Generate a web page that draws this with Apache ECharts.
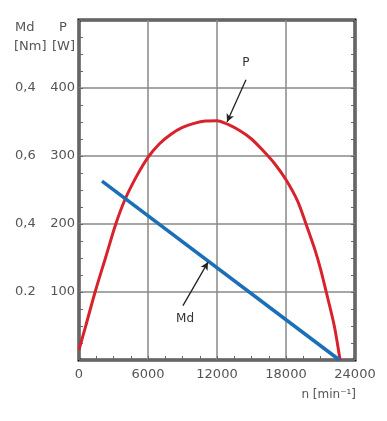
<!DOCTYPE html>
<html>
<head>
<meta charset="utf-8">
<script src="https://cdn.jsdelivr.net/npm/echarts@6/dist/echarts.min.js"></script>
<style>
html,body{margin:0;padding:0;background:#fff;}
#c{width:387px;height:421px;}
</style>
</head>
<body>
<div id="c"></div>
<script>
// speed n [min^-1]
var pSpeed = [0, 600, 1400, 2300, 3200, 4000, 5000, 6000, 7000, 8000, 9000, 10000, 11000, 12000, 13000, 14000, 15000, 16000, 17000, 18000, 19000, 19700, 20500, 21000, 21500, 22200, 22700];
// power P [W]
var pValues = [15, 51, 100, 150, 200, 236, 270, 298, 318, 332, 342, 348, 351.5, 352, 346, 337, 325, 308, 289, 265, 234, 202, 163, 134, 100, 50, 0];
// torque line (plotted on P scale)
var mdSpeed = [2000, 22650];
var mdValues = [263, 0];
// tick labels
var xTickLabels = ['0', '6000', '12000', '18000', '24000'];
var pTickLabels = ['', '100', '200', '300', '400', ''];
var mdTickLabels = ['', '0.2', '0,4', '0,6', '0,4', ''];
// annotations (data coordinates)
var pArrow = [[14520, 412], [12870, 350]];
var pLabel = [14520, 437];
var mdArrow = [[9040, 80], [11220, 144]];
var mdLabel = [9220, 60];

var font = 'DejaVu Sans';
var grey = '#555';

var chart = echarts.init(document.getElementById('c'), null, {renderer: 'canvas'});

function zip(a, b) { return a.map(function (v, i) { return [v, b[i]]; }); }

var tickStyle = {color: '#666'};

var option = {
  backgroundColor: '#fff',
  animation: false,
  grid: {left: 79, top: 20, right: 32, bottom: 61, show: true, borderColor: '#000', borderWidth: 3, backgroundColor: 'transparent'},
  xAxis: {
    type: 'value', min: 0, max: 24000, interval: 6000, position: 'bottom',
    axisLine: {show: false, onZero: false},
    axisTick: {show: true, inside: true, length: 4, lineStyle: tickStyle},
    minorTick: {show: true, splitNumber: 4, length: 4, lineStyle: tickStyle},
    splitLine: {show: true, lineStyle: {color: '#888', width: 1.5}},
    axisLabel: {
      color: grey, fontFamily: font, fontSize: 13, margin: 8,
      formatter: function (v) { return xTickLabels[Math.round(v / 6000)]; }
    }
  },
  yAxis: [
    {
      type: 'value', min: 0, max: 500, interval: 100, position: 'left',
      axisLine: {show: false, onZero: false},
      axisTick: {show: true, inside: true, length: 4, lineStyle: tickStyle},
      minorTick: {show: true, splitNumber: 4, length: 4, lineStyle: tickStyle},
      splitLine: {show: true, lineStyle: {color: '#888', width: 1.5}},
      axisLabel: {
        color: grey, fontFamily: font, fontSize: 13, margin: 4,
        formatter: function (v) { return pTickLabels[Math.round(v / 100)]; }
      }
    },
    {
      type: 'value', min: 0, max: 500, interval: 100, position: 'left',
      axisLine: {show: false, onZero: false}, axisTick: {show: false}, splitLine: {show: false},
      axisLabel: {
        color: grey, fontFamily: font, fontSize: 13, margin: 64, align: 'left',
        formatter: function (v) { return mdTickLabels[Math.round(v / 100)]; }
      }
    },
    {
      type: 'value', min: 0, max: 500, interval: 100, position: 'right',
      axisLine: {show: false, onZero: false},
      axisTick: {show: true, inside: true, length: 4, lineStyle: tickStyle},
      minorTick: {show: true, splitNumber: 4, length: 4, lineStyle: tickStyle},
      splitLine: {show: false},
      axisLabel: {show: false}
    }
  ],
  graphic: [
    {type: 'text', left: 15, top: 21, style: {text: 'Md', fill: grey, font: '13px "DejaVu Sans"'}},
    {type: 'text', left: 14, top: 40, style: {text: '[Nm]', fill: grey, font: '13px "DejaVu Sans"'}},
    {type: 'text', left: 59, top: 21, style: {text: 'P', fill: grey, font: '13px "DejaVu Sans"'}},
    {type: 'text', left: 52, top: 40, style: {text: '[W]', fill: grey, font: '13px "DejaVu Sans"'}},
    {type: 'text', right: 31, top: 389, style: {text: 'n [min\u207B\u00B9]', fill: grey, font: '12px "DejaVu Sans"'}}
  ],
  series: [
    {
      type: 'line', data: zip(pSpeed, pValues), smooth: 0.3, showSymbol: false,
      lineStyle: {color: '#d8222c', width: 3}, z: 3,
      markLine: {
        silent: true, symbol: ['none', 'arrow'], symbolSize: [6, 8],
        lineStyle: {color: '#222', width: 1.3, type: 'solid'}, label: {show: false},
        data: [[{coord: pArrow[0]}, {coord: pArrow[1]}]]
      },
      markPoint: {
        silent: true, symbol: 'circle', symbolSize: 0,
        label: {show: true, formatter: 'P', color: '#333', fontFamily: font, fontSize: 12, position: 'inside'},
        data: [{coord: pLabel}]
      }
    },
    {
      type: 'line', data: zip(mdSpeed, mdValues), showSymbol: false,
      lineStyle: {color: '#1a6fb6', width: 3.5}, z: 4,
      markLine: {
        silent: true, symbol: ['none', 'arrow'], symbolSize: [6, 8],
        lineStyle: {color: '#222', width: 1.3, type: 'solid'}, label: {show: false},
        data: [[{coord: mdArrow[0]}, {coord: mdArrow[1]}]]
      },
      markPoint: {
        silent: true, symbol: 'circle', symbolSize: 0,
        label: {show: true, formatter: 'Md', color: '#333', fontFamily: font, fontSize: 12, position: 'inside'},
        data: [{coord: mdLabel}]
      }
    }
  ]
};
chart.setOption(option);
</script>
</body>
</html>
